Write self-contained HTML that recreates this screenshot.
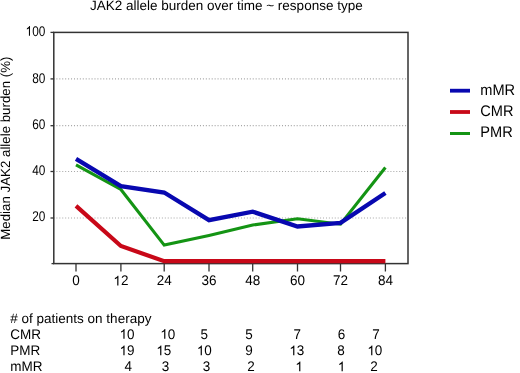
<!DOCTYPE html>
<html><head><meta charset="utf-8">
<style>
html,body{margin:0;padding:0;background:#fff;}
body{width:520px;height:373px;overflow:hidden;}
svg{display:block;will-change:transform;font-family:"Liberation Sans",sans-serif;font-size:13.5px;fill:#000;text-rendering:geometricPrecision;}
</style></head><body>
<svg width="520" height="373" viewBox="0 0 520 373">
<text x="226.3" y="10" text-anchor="middle">JAK2 allele burden over time ~ response type</text>
<text transform="translate(9.8,239.8) rotate(-90)" style="font-size:13.3px">Median JAK2 allele burden (%)</text>
<g stroke="#a6a6a6" stroke-width="1.2" stroke-dasharray="1,1.93" stroke-dashoffset="-2.4">
<line x1="54" y1="78.9" x2="407" y2="78.9"/>
<line x1="54" y1="125.7" x2="407" y2="125.7"/>
<line x1="54" y1="171.5" x2="407" y2="171.5"/>
<line x1="54" y1="218" x2="407" y2="218"/>
</g>
<rect x="53.8" y="32.4" width="354.2" height="231.2" fill="none" stroke="#333" stroke-width="1.5"/>
<g stroke="#333" stroke-width="1.3">
<line x1="50.5" y1="32.4" x2="54" y2="32.4"/>
<line x1="50.5" y1="78.9" x2="54" y2="78.9"/>
<line x1="50.5" y1="125.7" x2="54" y2="125.7"/>
<line x1="50.5" y1="171.5" x2="54" y2="171.5"/>
<line x1="50.5" y1="218" x2="54" y2="218"/>
<line x1="51.5" y1="263.6" x2="54" y2="263.6"/>
<line x1="76" y1="263.6" x2="76" y2="271.5"/>
<line x1="120.9" y1="263.6" x2="120.9" y2="271.5"/>
<line x1="164.2" y1="263.6" x2="164.2" y2="271.5"/>
<line x1="209" y1="263.6" x2="209" y2="271.5"/>
<line x1="252.7" y1="263.6" x2="252.7" y2="271.5"/>
<line x1="297.5" y1="263.6" x2="297.5" y2="271.5"/>
<line x1="340.5" y1="263.6" x2="340.5" y2="271.5"/>
<line x1="385.4" y1="263.6" x2="385.4" y2="271.5"/>
</g>
<g fill="none" stroke-linejoin="miter" stroke-linecap="butt">
<polyline stroke="#c80818" stroke-width="4.2" points="76,205.9 120.9,246 164.2,261.2 209,261.2 252.7,261.2 297.5,261.2 340.5,261.2 385.4,261.2"/>
<polyline stroke="#149414" stroke-width="3.1" points="76,164.9 120.9,189.5 164.2,245.1 209,235.4 252.7,225 297.5,218.8 340.5,224.2 385.4,167.5"/>
<polyline stroke="#0808b0" stroke-width="4.3" points="76,158.8 120.9,186.2 164.2,192.5 209,220.2 252.7,211.7 297.5,226.5 340.5,222.9 385.4,193.0"/>
</g>
<text transform="translate(25.56,35.8) scale(0.87,1.04)" style="font-size:13.6px"> 00</text>
<path transform="translate(25.56,35.8) scale(0.00578,-0.00664)" d="M763 0H583V1147Q518 1085 412.5 1023T223 930V1104Q373 1175 486.5 1276T647 1472H763Z"/>
<text transform="translate(32.14,82.5) scale(0.87,1.04)" style="font-size:13.6px">80</text>
<text transform="translate(32.14,128.9) scale(0.87,1.04)" style="font-size:13.6px">60</text>
<text transform="translate(32.14,174.8) scale(0.87,1.04)" style="font-size:13.6px">40</text>
<text transform="translate(32.14,220.9) scale(0.87,1.04)" style="font-size:13.6px">20</text>
<text transform="translate(72.25,285.4) scale(1,1.04)">0</text>
<text transform="translate(113.39,285.4) scale(1,1.04)"> 2</text>
<path transform="translate(113.39,285.4) scale(0.00659,-0.00659)" d="M763 0H583V1147Q518 1085 412.5 1023T223 930V1104Q373 1175 486.5 1276T647 1472H763Z"/>
<text transform="translate(156.69,285.4) scale(1,1.04)">24</text>
<text transform="translate(201.49,285.4) scale(1,1.04)">36</text>
<text transform="translate(245.19,285.4) scale(1,1.04)">48</text>
<text transform="translate(289.99,285.4) scale(1,1.04)">60</text>
<text transform="translate(332.99,285.4) scale(1,1.04)">72</text>
<text transform="translate(377.89,285.4) scale(1,1.04)">84</text>
<line x1="450" y1="90.7" x2="470" y2="90.7" stroke="#0808b0" stroke-width="3.8"/>
<line x1="450" y1="112" x2="470" y2="112" stroke="#c80818" stroke-width="3.8"/>
<line x1="450" y1="133.5" x2="470" y2="133.5" stroke="#149414" stroke-width="3"/>
<text transform="translate(480.3,95) scale(1,1.05)" style="font-size:14.6px">mMR</text>
<text transform="translate(480.3,116) scale(1,1.05)" style="font-size:14.6px">CMR</text>
<text transform="translate(480.3,137.1) scale(1,1.05)" style="font-size:14.6px">PMR</text>
<text transform="translate(10.3,322.8) scale(1,1)"># of patients on therapy</text>
<text transform="translate(10.3,338.8) scale(1,1.03)">CMR</text>
<text transform="translate(10.3,355.2) scale(1,1.03)">PMR</text>
<text transform="translate(10.3,371.2) scale(1,1.03)">mMR</text>
<text transform="translate(119.53,338.8) scale(1,1.04)"> 0</text>
<path transform="translate(119.53,338.8) scale(0.00659,-0.00659)" d="M763 0H583V1147Q518 1085 412.5 1023T223 930V1104Q373 1175 486.5 1276T647 1472H763Z"/>
<text transform="translate(160.33,338.8) scale(1,1.04)"> 0</text>
<path transform="translate(160.33,338.8) scale(0.00659,-0.00659)" d="M763 0H583V1147Q518 1085 412.5 1023T223 930V1104Q373 1175 486.5 1276T647 1472H763Z"/>
<text transform="translate(200.46,338.8) scale(1,1.04)">5</text>
<text transform="translate(245.36,338.8) scale(1,1.04)">5</text>
<text transform="translate(293.41,338.8) scale(1,1.04)">7</text>
<text transform="translate(337.81,338.8) scale(1,1.04)">6</text>
<text transform="translate(372.21,338.8) scale(1,1.04)">7</text>
<text transform="translate(119.53,355.2) scale(1,1.04)"> 9</text>
<path transform="translate(119.53,355.2) scale(0.00659,-0.00659)" d="M763 0H583V1147Q518 1085 412.5 1023T223 930V1104Q373 1175 486.5 1276T647 1472H763Z"/>
<text transform="translate(156.33,355.2) scale(1,1.04)"> 5</text>
<path transform="translate(156.33,355.2) scale(0.00659,-0.00659)" d="M763 0H583V1147Q518 1085 412.5 1023T223 930V1104Q373 1175 486.5 1276T647 1472H763Z"/>
<text transform="translate(196.83,355.2) scale(1,1.04)"> 0</text>
<path transform="translate(196.83,355.2) scale(0.00659,-0.00659)" d="M763 0H583V1147Q518 1085 412.5 1023T223 930V1104Q373 1175 486.5 1276T647 1472H763Z"/>
<text transform="translate(245.27,355.2) scale(1,1.04)">9</text>
<text transform="translate(289.33,355.2) scale(1,1.04)"> 3</text>
<path transform="translate(289.33,355.2) scale(0.00659,-0.00659)" d="M763 0H583V1147Q518 1085 412.5 1023T223 930V1104Q373 1175 486.5 1276T647 1472H763Z"/>
<text transform="translate(337.31,355.2) scale(1,1.04)">8</text>
<text transform="translate(367.33,355.2) scale(1,1.04)"> 0</text>
<path transform="translate(367.33,355.2) scale(0.00659,-0.00659)" d="M763 0H583V1147Q518 1085 412.5 1023T223 930V1104Q373 1175 486.5 1276T647 1472H763Z"/>
<text transform="translate(124.49,371.2) scale(1,1.04)">4</text>
<text transform="translate(161.69,371.2) scale(1,1.04)">3</text>
<text transform="translate(202.69,371.2) scale(1,1.04)">3</text>
<text transform="translate(247.22,371.2) scale(1,1.04)">2</text>
<text transform="translate(295.33,371.2) scale(1,1.04)"> </text>
<path transform="translate(295.33,371.2) scale(0.00659,-0.00659)" d="M763 0H583V1147Q518 1085 412.5 1023T223 930V1104Q373 1175 486.5 1276T647 1472H763Z"/>
<text transform="translate(337.73,371.2) scale(1,1.04)"> </text>
<path transform="translate(337.73,371.2) scale(0.00659,-0.00659)" d="M763 0H583V1147Q518 1085 412.5 1023T223 930V1104Q373 1175 486.5 1276T647 1472H763Z"/>
<text transform="translate(370.22,371.2) scale(1,1.04)">2</text>
</svg>
</body></html>
